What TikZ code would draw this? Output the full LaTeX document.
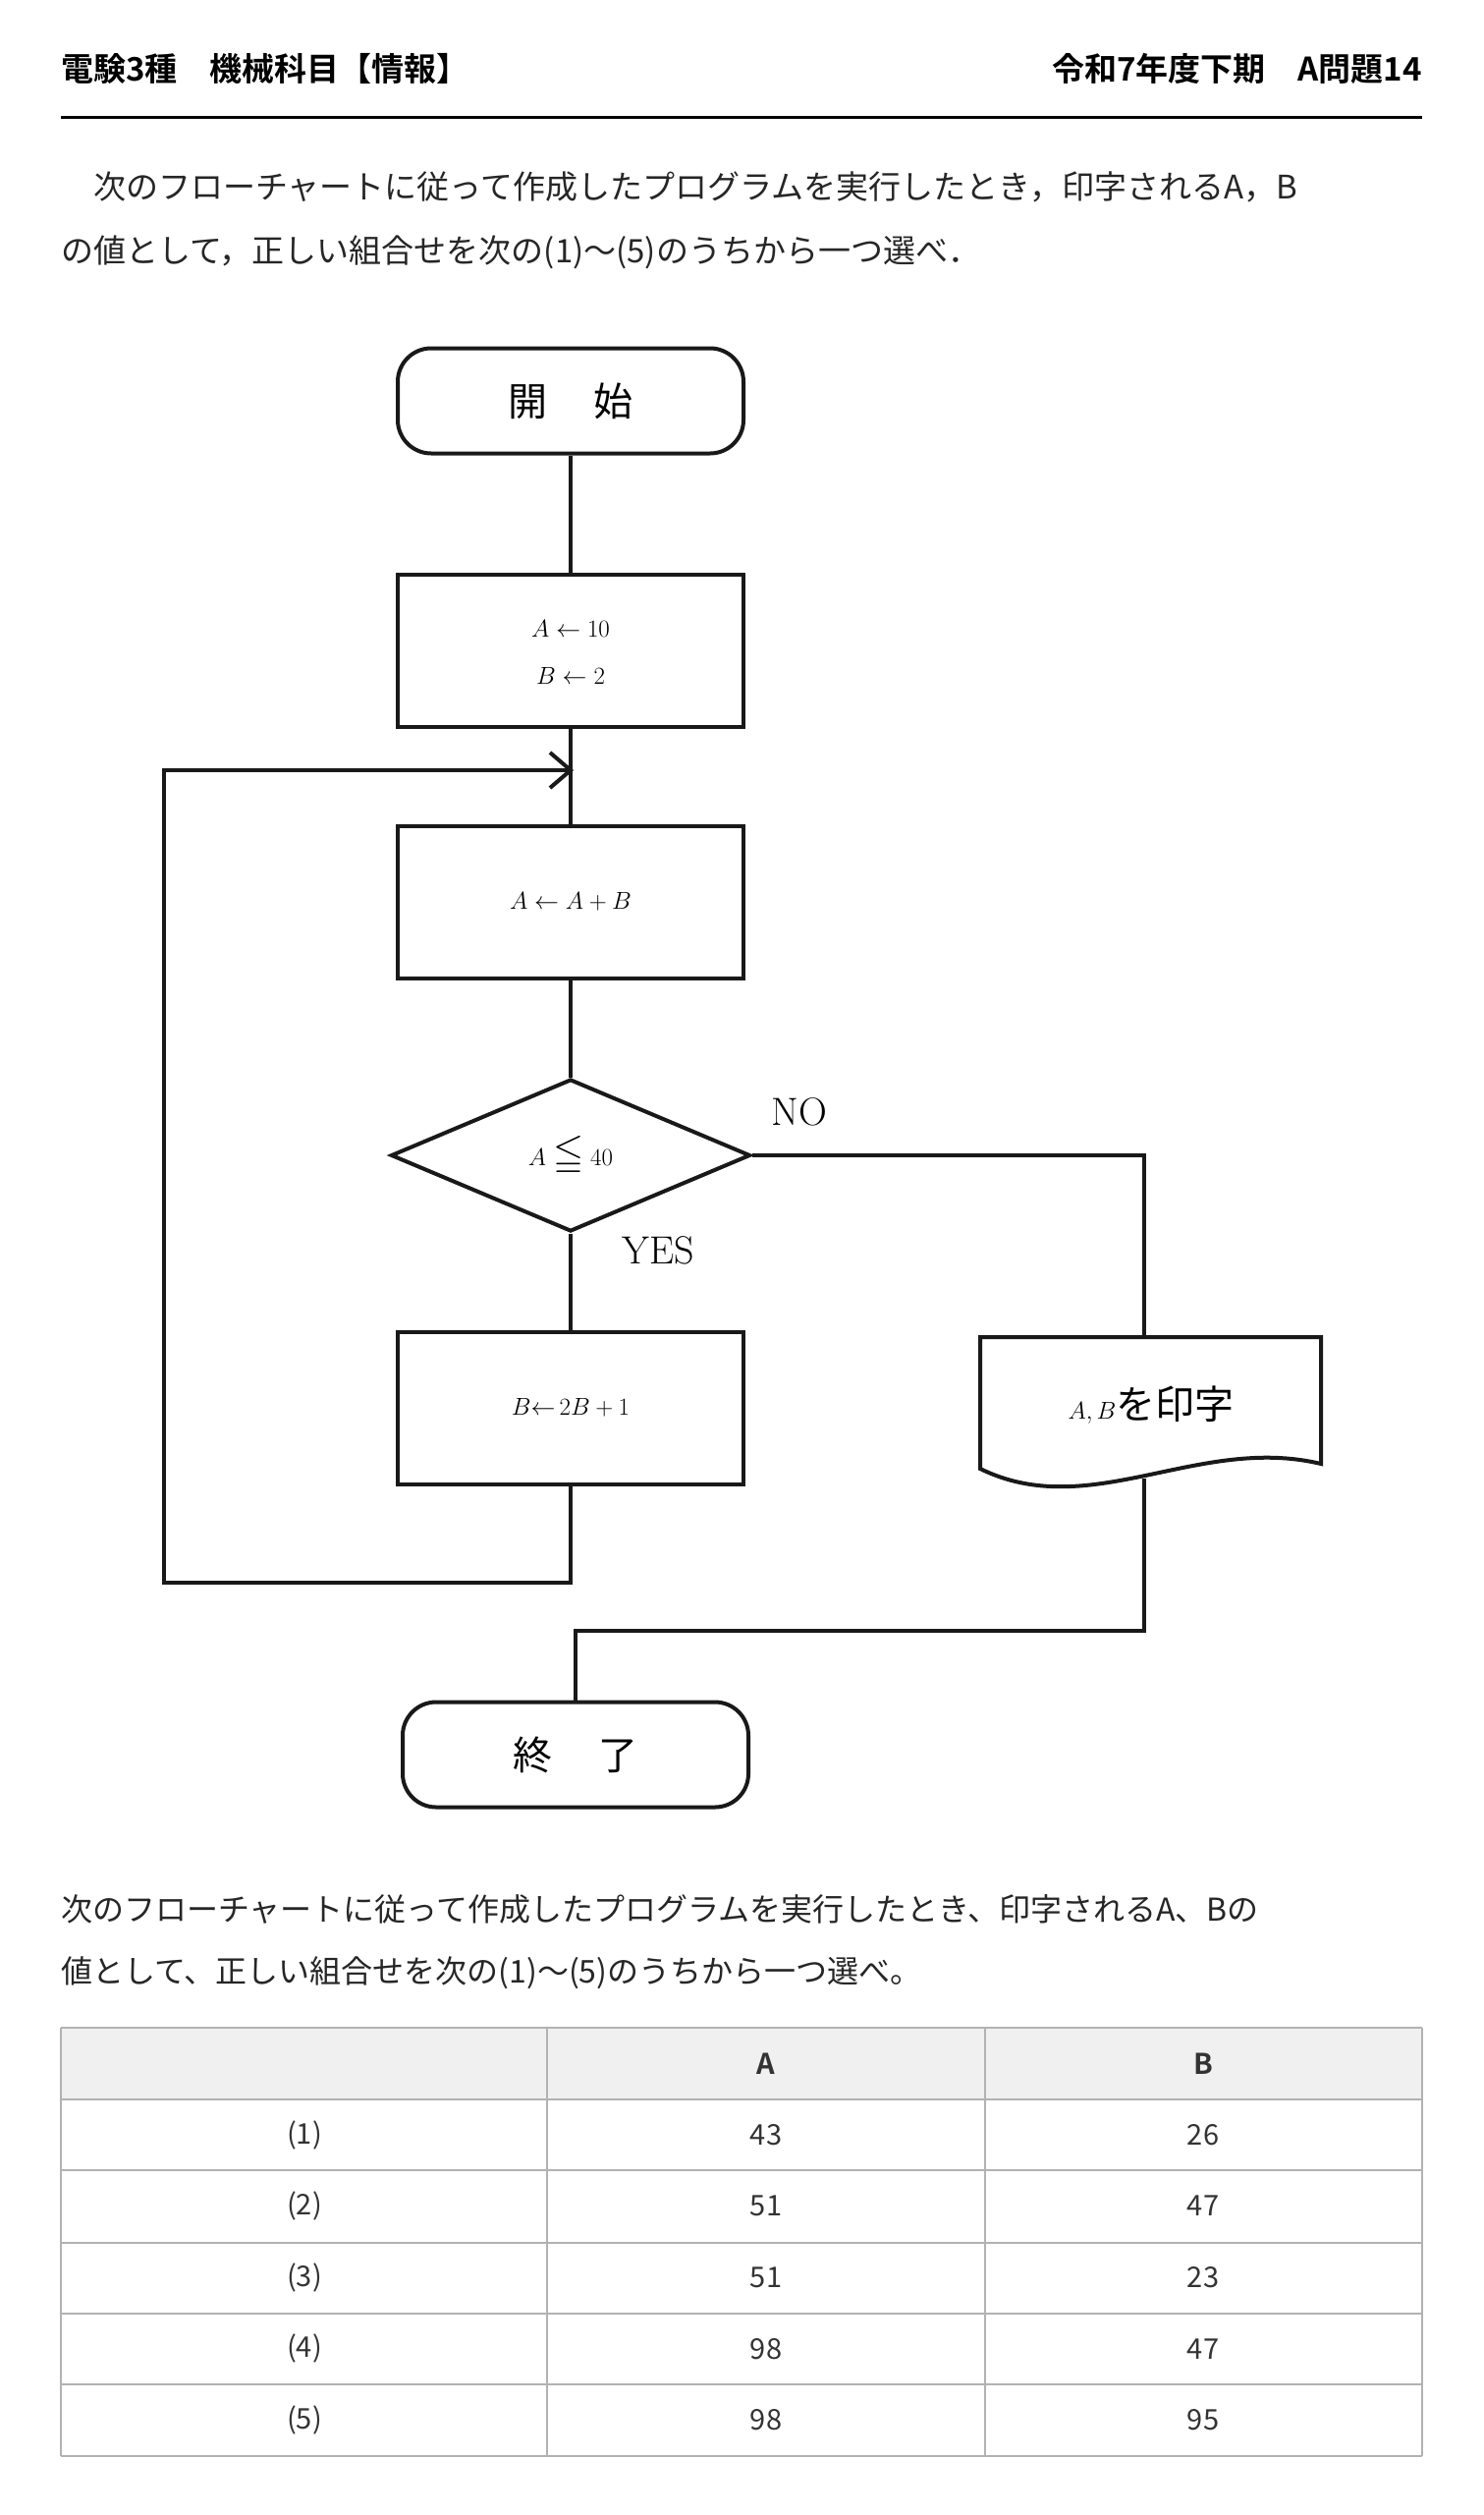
\documentclass[tikz,border=0pt]{standalone}
\usetikzlibrary{shapes.geometric}
\usepackage{amssymb}
\usepackage{fontspec}
\newfontfamily\cjk{Noto Sans CJK JP}
\newfontfamily\cjkb{Noto Sans CJK JP Bold}
\begin{document}
\begin{tikzpicture}[x=1pt,y=-1pt,
  fl/.style={line width=4pt,draw=black!90},
  box/.style={fl,rectangle,minimum width=352pt,minimum height=155pt,inner sep=0pt,font=\fontsize{42}{52}\selectfont},
  term/.style={fl,rectangle,rounded corners=34pt,minimum width=352pt,minimum height=107pt,inner sep=0pt,font=\cjk\fontsize{40}{48}\selectfont},
  lab/.style={font=\fontsize{40}{48}\selectfont,inner sep=0pt},
  para/.style={anchor=west,inner sep=0pt,font=\cjk\fontsize{33}{40}\selectfont,text=black!85},
  cell/.style={inner sep=0pt,font=\cjk\fontsize{29}{36}\selectfont,text=black!80},
  tl/.style={draw=black!30,line width=2pt}]
\useasboundingbox[fill=white] (0,0) rectangle (1511,2560);
% header
\node[anchor=west,inner sep=0pt,font=\cjkb\fontsize{33}{40}\selectfont] (h1) at (62,70) {電験3種　機械科目【情報】};
\node[anchor=east,inner sep=0pt,font=\cjkb\fontsize{33}{40}\selectfont] (h2) at (1448,70) {令和7年度下期　A問題14};
\draw[line width=3pt] (62,119) -- (1448,119);
\node[para] (p1) at (62,190) {　次のフローチャートに従って作成したプログラムを実行したとき，印字されるA，B};
\node[para] (p2) at (62,257) {の値として，正しい組合せを次の(1)～(5)のうちから一つ選べ．};
% flowchart
\node[term] (start) at (581,408) {開\hspace{1.2em}始};
\node[box] (b1) at (581,662) {$\begin{array}{c}A\leftarrow 10\\[-4pt] B\leftarrow 2\end{array}$};
\node[box] (b2) at (581,918) {$A\leftarrow A+B$};
\node[fl,diamond,minimum width=366pt,minimum height=155pt,inner sep=0pt,shape aspect=2.36,font=\fontsize{40}{48}\selectfont] (d) at (581,1176) {$A\leqq 40$};
\node[box] (b3) at (581,1433) {$B{\leftarrow}\,2B+1$};
\node[term] (end) at (586,1786) {終\hspace{1.2em}了};
\node[lab] (no) at (814,1132) {NO};
\node[lab] (yes) at (670,1273) {YES};
\coordinate (m) at (581,784);
\coordinate (lb) at (581,1611);
\coordinate (ll) at (167,1611);
\coordinate (lt) at (167,784);
\coordinate (nr) at (1165,1176);
\coordinate (mr) at (1165,1660);
\coordinate (ml) at (586,1660);
% document shape
\draw[fl] (998,1361) -- (1345,1361) -- (1345,1490) .. controls (1220,1460) and (1110,1550) .. (998,1495) -- cycle;
\node[lab] (pr) at (1172,1430) {$A,B$\cjk を印字};
\coordinate (pt) at (1165,1361);
\coordinate (pb) at (1165,1505);
\draw[fl] (start) -- (b1);
\draw[fl] (b1) -- (b2);
\draw[fl] (b2) -- (d);
\draw[fl] (d) -- (b3);
\draw[fl] (b3.south) -- (lb) -- (ll) -- (lt) -- (m);
\draw[fl] (560,766) -- (m) -- (560,802);
\draw[fl] (d.east) -- (nr) -- (pt);
\draw[fl] (pb) -- (mr) -- (ml) -- (end.north);
% second paragraph
\node[para,font=\cjk\fontsize{32}{40}\selectfont] (q1) at (62,1943) {次のフローチャートに従って作成したプログラムを実行したとき、印字されるA、Bの};
\node[para,font=\cjk\fontsize{32}{40}\selectfont] (q2) at (62,2008) {値として、正しい組合せを次の(1)～(5)のうちから一つ選べ。};
% table
\fill[black!6] (62,2064) rectangle (1448,2137);
\foreach \y in {2064,2137,2209,2283,2355,2427,2500} \draw[tl] (62,\y) -- (1448,\y);
\foreach \x in {62,557,1003,1448} \draw[tl] (\x,2064) -- (\x,2500);
\node[cell,font=\cjkb\fontsize{29}{36}\selectfont] (ha) at (780,2101) {A};
\node[cell,font=\cjkb\fontsize{29}{36}\selectfont] (hb) at (1225,2101) {B};
\foreach \i/\a/\b [count=\k] in {(1)/43/26,(2)/51/47,(3)/51/23,(4)/98/47,(5)/98/95}{
  \pgfmathsetmacro{\yy}{2137+72.6*(\k-1)+36}
  \node[cell] (c\k) at (310,\yy) {\i};
  \node[cell] (a\k) at (780,\yy) {\a};
  \node[cell] (bb\k) at (1225,\yy) {\b};
}
\end{tikzpicture}
\end{document}
